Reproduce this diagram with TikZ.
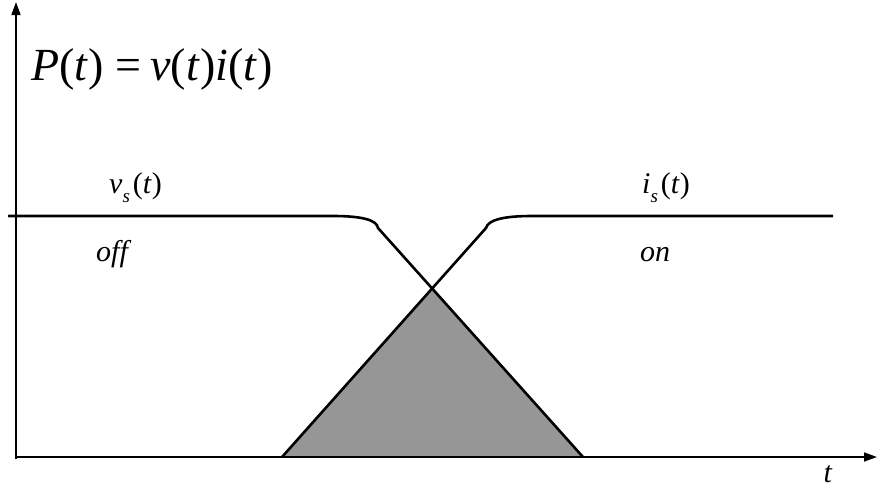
\documentclass[tikz,border=0pt]{standalone}
\usepackage{fontspec}
\setmainfont{Liberation Serif}
\usetikzlibrary{arrows.meta}
\newcommand{\subs}[1]{\raisebox{-0.3em}{\fontsize{19}{19}\selectfont\textit{#1}}\kern3pt}
\tikzset{
  axisline/.style={line width=1.7pt, -{Triangle[length=13pt,width=9pt]}},
  curve/.style={line width=2.6pt, line join=round},
  lbl/.style={inner sep=0pt, font=\fontsize{30}{30}\selectfont},
  biglbl/.style={inner sep=0pt, font=\fontsize{46}{46}\selectfont},
}
\begin{document}
\begin{tikzpicture}[x=1pt,y=-1pt]
\useasboundingbox (0,0) rectangle (877,488);
% key points
\coordinate (L) at (282,457);
\coordinate (X) at (433,289);
\coordinate (R) at (583,457);
\coordinate (O) at (16,457);
% shaded triangle
\fill[fill={rgb,255:red,150;green,150;blue,150}] (L) -- (X) -- (R) -- cycle;
% axes
\coordinate (ytop) at (16,2);
\coordinate (xend) at (877,457);
\draw[axisline] (16,459) -- (ytop);
\draw[axisline] (O) -- (xend);
% v_s curve
\draw[curve] (8,216) -- (333,216) .. controls (362,216) and (377,220) .. (378,228) -- (R);
% i_s curve
\draw[curve] (L) -- (486,228) .. controls (488,220) and (503,216) .. (532,216) -- (833,216);
% labels
\node[biglbl, anchor=base west] (P) at (31,80) {\textit{P}(\textit{t})\kern12pt=\kern9pt\textit{v}(\textit{t})\textit{i}(\textit{t})};
\node[lbl, anchor=base west] (vs) at (109,193) {\textit{v}\subs{s}(\textit{t})};
\node[lbl, anchor=base west] (is) at (642,193) {\textit{i}\subs{s}(\textit{t})};
\node[lbl, anchor=base west] (off) at (96,261) {\textit{off}};
\node[lbl, anchor=base west] (on) at (640,261) {\textit{on}};
\node[lbl, anchor=base] (t) at (828,482) {\textit{t}};
\end{tikzpicture}
\end{document}
